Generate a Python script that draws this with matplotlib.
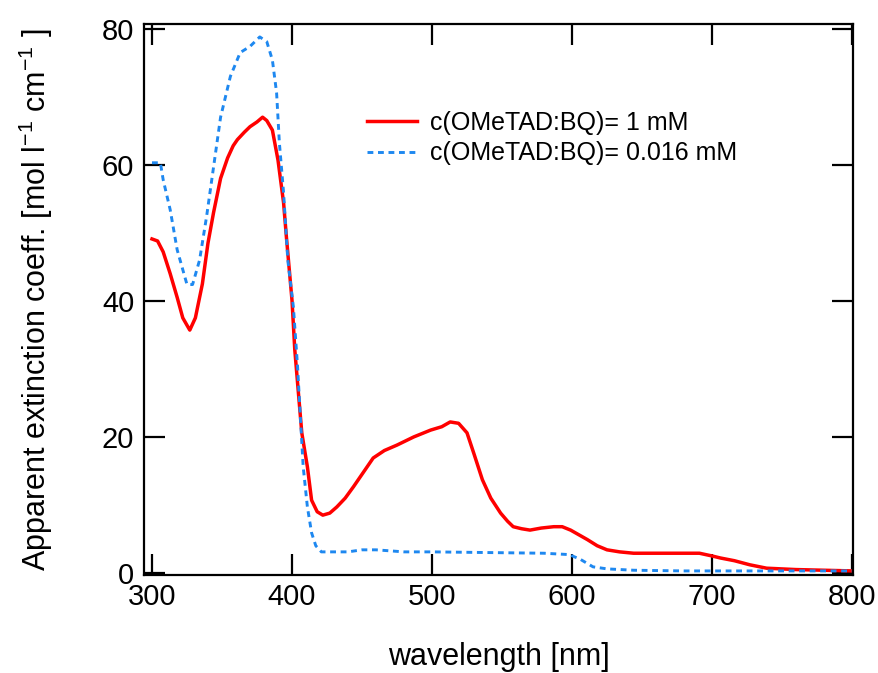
import numpy as np
import matplotlib.pyplot as plt

plt.rcParams['font.family'] = ['Liberation Sans', 'DejaVu Sans']
plt.rcParams['mathtext.fontset'] = 'custom'
plt.rcParams['mathtext.rm'] = 'Liberation Sans'

# red curve, c = 1 mM
wl_red = [300, 304, 308, 313, 318, 322, 327, 331, 336, 340, 344, 349, 354, 358, 361,
          366, 370, 375, 379, 382, 386, 390, 394, 396, 400, 402, 404, 407, 411, 414,
          418, 422, 427, 432, 438, 444, 451, 458, 466, 475, 487, 499, 507, 513, 519,
          525, 530, 536, 542, 549, 554, 558, 564, 570, 578, 587, 593, 599, 605, 611,
          618, 625, 634, 644, 660, 680, 691, 700, 706, 716, 727, 739, 760, 780, 800]
ext_red = [49.1, 48.8, 47.2, 44.0, 40.5, 37.5, 35.7, 37.5, 42.5, 48.5, 53.0, 58.0, 61.0, 62.8, 63.7,
           64.8, 65.6, 66.3, 67.0, 66.5, 65.1, 60.7, 54.4, 49.4, 40.1, 32.8, 27.9, 20.6, 15.6, 10.7,
           9.0, 8.5, 8.8, 9.7, 11.0, 12.7, 14.8, 16.9, 18.0, 18.8, 20.0, 21.0, 21.5, 22.2, 22.0,
           20.6, 17.5, 13.7, 11.0, 8.8, 7.6, 6.8, 6.5, 6.3, 6.6, 6.8, 6.8, 6.3, 5.6, 4.9,
           4.0, 3.4, 3.1, 2.9, 2.9, 2.9, 2.9, 2.5, 2.2, 1.8, 1.2, 0.7, 0.5, 0.4, 0.3]

# blue dashed curve, c = 0.016 mM
wl_blue = [300, 306, 308, 313, 318, 325, 329, 334, 339, 344, 349, 356, 363, 370, 377,
           382, 386, 389, 391, 394, 397, 401, 404, 406, 408, 411, 414, 417, 421, 430,
           440, 450, 460, 480, 500, 540, 580, 598, 606, 615, 625, 644, 680, 720, 760, 800]
ext_blue = [60.3, 60.3, 57.8, 53.4, 47.5, 42.4, 42.4, 46.0, 52.4, 59.7, 67.0, 73.0, 76.5, 77.4, 78.8,
            78.1, 75.4, 70.6, 63.2, 55.9, 46.0, 39.1, 30.3, 22.9, 15.6, 9.7, 5.9, 4.0, 3.1, 3.1,
            3.1, 3.4, 3.4, 3.1, 3.1, 3.0, 2.9, 2.7, 2.0, 0.9, 0.6, 0.4, 0.3, 0.3, 0.3, 0.3]

fig = plt.figure(figsize=(8.79, 6.73), dpi=100)
ax = fig.add_axes([144/879, 1-575/673, (853-144)/879, (575-24)/673])

ax.plot(wl_red, ext_red, color='#ff0000', lw=2.5, label='c(OMeTAD:BQ)= 1 mM')
ax.plot(wl_blue, ext_blue, color='#1e88f0', lw=2.1, ls=(0, (2, 1.6)),
        label='c(OMeTAD:BQ)= 0.016 mM')

ax.set_xlim(294.3, 800.7)
ax.set_ylim(-0.3, 80.7)
ax.set_xticks([300, 400, 500, 600, 700, 800])
ax.set_yticks([0, 20, 40, 60, 80])
ax.tick_params(direction='in', length=15, width=1.6, labelsize=21,
               top=True, right=True, pad=6)
ax.tick_params(axis='y', pad=7)
for s in ax.spines.values():
    s.set_linewidth(1.6)

ax.set_xlabel('wavelength [nm]', fontsize=22, labelpad=22)
ax.set_ylabel('Apparent extinction coeff. [mol l$^{\\mathregular{-1}}$ cm$^{\\mathregular{-1}}$ ]',
              fontsize=22, labelpad=34)

ax.legend(loc='upper left', bbox_to_anchor=(0.3145, 0.842), frameon=False, fontsize=18,
          handlelength=2.0, handletextpad=0.52, labelspacing=0.25, borderpad=0,
          borderaxespad=0)

fig.savefig('out.png', dpi=100)
